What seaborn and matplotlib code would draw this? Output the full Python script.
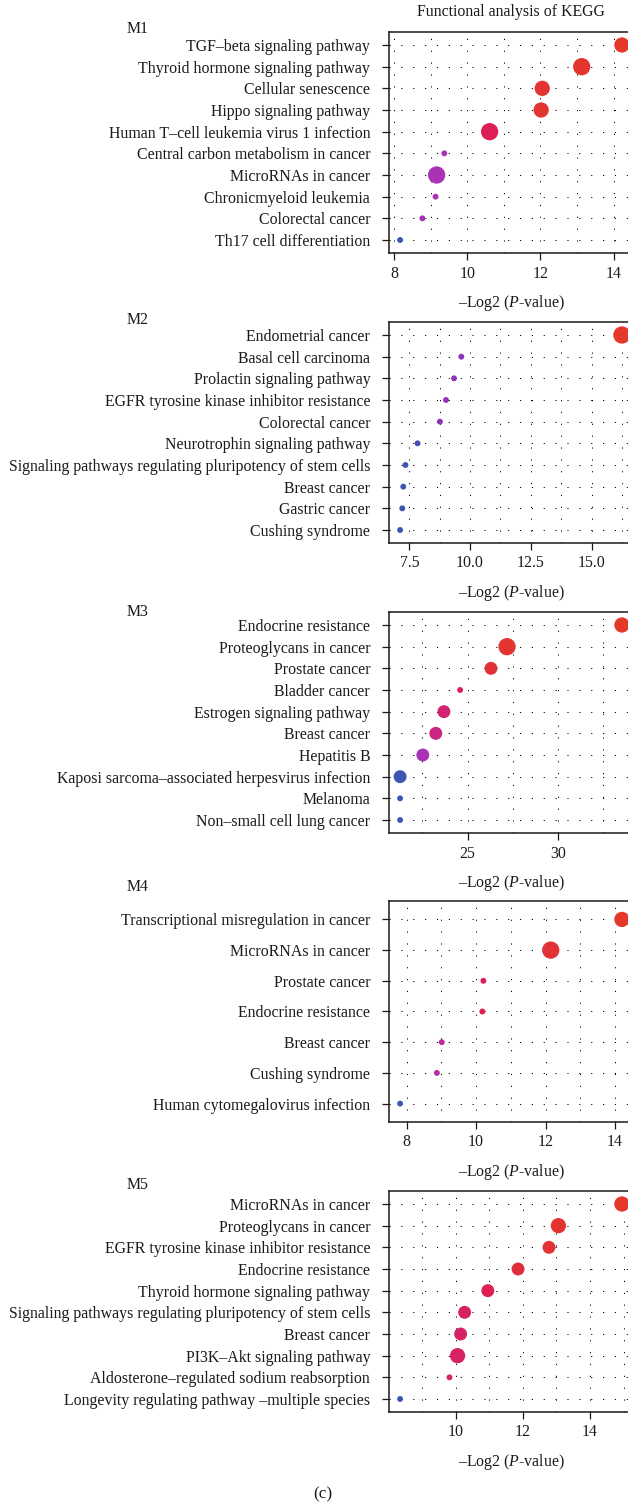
import matplotlib
matplotlib.use("Agg")
import matplotlib.pyplot as plt
import pandas as pd
import seaborn as sns
from matplotlib.colors import LinearSegmentedColormap
from matplotlib.ticker import MultipleLocator

# ---- KEGG enrichment per module (terms listed top to bottom) ----
m1_terms = ["TGF\u2013beta signaling pathway", "Thyroid hormone signaling pathway",
            "Cellular senescence", "Hippo signaling pathway",
            "Human T\u2013cell leukemia virus 1 infection", "Central carbon metabolism in cancer",
            "MicroRNAs in cancer", "Chronicmyeloid leukemia", "Colorectal cancer",
            "Th17 cell differentiation"]
m1_score = [14.23, 13.13, 12.05, 12.02, 10.61, 9.37, 9.16, 9.13, 8.77, 8.16]
m1_count = [5, 6, 5, 5, 6, 2, 6, 2, 2, 2]
m1_level = [1.0, 0.98, 0.97, 0.97, 0.85, 0.5, 0.5, 0.5, 0.48, 0.0]

m2_terms = ["Endometrial cancer", "Basal cell carcinoma", "Prolactin signaling pathway",
            "EGFR tyrosine kinase inhibitor resistance", "Colorectal cancer",
            "Neurotrophin signaling pathway",
            "Signaling pathways regulating pluripotency of stem cells",
            "Breast cancer", "Gastric cancer", "Cushing syndrome"]
m2_score = [16.25, 9.64, 9.34, 9.01, 8.76, 7.84, 7.34, 7.25, 7.21, 7.12]
m2_count = [6, 2, 2, 2, 2, 2, 2, 2, 2, 2]
m2_level = [1.0, 0.38, 0.38, 0.37, 0.36, 0.03, 0.0, 0.0, 0.0, 0.0]

m3_terms = ["Endocrine resistance", "Proteoglycans in cancer", "Prostate cancer",
            "Bladder cancer", "Estrogen signaling pathway", "Breast cancer", "Hepatitis B",
            "Kaposi sarcoma\u2013associated herpesvirus infection", "Melanoma",
            "Non\u2013small cell lung cancer"]
m3_score = [33.56, 27.19, 26.30, 24.59, 23.69, 23.24, 22.52, 21.26, 21.26, 21.26]
m3_count = [5, 6, 4, 2, 4, 4, 4, 4, 2, 2]
m3_level = [1.0, 0.97, 0.95, 0.85, 0.75, 0.7, 0.5, 0.0, 0.0, 0.0]

m4_terms = ["Transcriptional misregulation in cancer", "MicroRNAs in cancer",
            "Prostate cancer", "Endocrine resistance", "Breast cancer",
            "Cushing syndrome", "Human cytomegalovirus infection"]
m4_score = [14.20, 12.15, 10.21, 10.18, 9.01, 8.87, 7.81]
m4_count = [5, 6, 2, 2, 2, 2, 2]
m4_level = [1.0, 0.96, 0.85, 0.85, 0.6, 0.58, 0.0]

m5_terms = ["MicroRNAs in cancer", "Proteoglycans in cancer",
            "EGFR tyrosine kinase inhibitor resistance", "Endocrine resistance",
            "Thyroid hormone signaling pathway",
            "Signaling pathways regulating pluripotency of stem cells", "Breast cancer",
            "PI3K\u2013Akt signaling pathway", "Aldosterone\u2013regulated sodium reabsorption",
            "Longevity regulating pathway \u2013multiple species"]
m5_score = [14.95, 13.06, 12.78, 11.86, 10.96, 10.27, 10.15, 10.06, 9.82, 8.35]
m5_count = [5, 5, 4, 4, 4, 4, 4, 5, 2, 2]
m5_level = [1.0, 0.97, 0.96, 0.93, 0.85, 0.8, 0.8, 0.8, 0.8, 0.0]

modules = ["M1", "M2", "M3", "M4", "M5"]
major_steps = [2, 2.5, 5, 2, 2]

panels = [
    (m1_terms, m1_score, m1_count, m1_level),
    (m2_terms, m2_score, m2_count, m2_level),
    (m3_terms, m3_score, m3_count, m3_level),
    (m4_terms, m4_score, m4_count, m4_level),
    (m5_terms, m5_score, m5_count, m5_level),
]

sns.set_theme(style="white")
plt.rcParams.update({
    "font.family": ["Liberation Serif", "DejaVu Serif"],
    "mathtext.fontset": "custom",
    "mathtext.rm": "Liberation Serif",
    "mathtext.it": "Liberation Serif:italic",
    "text.color": "#1a1a1a",
    "axes.labelcolor": "#1a1a1a",
    "xtick.color": "#1a1a1a",
    "ytick.color": "#1a1a1a",
})

sig_cmap = LinearSegmentedColormap.from_list(
    "sig", [(0.0, "#3d55b3"), (0.35, "#8a33bf"), (0.5, "#a932b5"),
            (0.7, "#cc2484"), (0.85, "#dc1f55"), (1.0, "#e4392a")])

W, H = 628, 1508
fig = plt.figure(figsize=(W / 100, H / 100), dpi=100)
ax_left, ax_right = 389, 633
ax_tops = [32, 322, 612, 901, 1191]
ax_h = 221
mod_label_y = [29, 320, 612, 887, 1185]
fs = 11.4

grid_style = dict(color="black", linewidth=0.7, linestyle=(0, (1.2, 11)))

for i, (terms, score, count, level) in enumerate(panels):
    top = ax_tops[i]
    ax = fig.add_axes([ax_left / W, 1 - (top + ax_h) / H,
                       (ax_right - ax_left) / W, ax_h / H])
    df = pd.DataFrame({"Term": terms[::-1], "Score": score[::-1],
                       "Count": count[::-1], "Level": level[::-1]})
    n = len(df)

    ax.grid(True, which="major", axis="both", **grid_style)
    ax.grid(True, which="minor", axis="x", **grid_style)
    ax.set_axisbelow(True)

    sns.scatterplot(data=df, x="Score", y="Term", hue="Level", size="Count",
                    palette=sig_cmap, hue_norm=(0, 1), sizes=(18, 155),
                    size_norm=(2, 6), linewidth=0, legend=False, ax=ax, zorder=3)

    lo, hi = min(score), max(score)
    pad = (hi - lo) * 0.05
    ax.set_xlim(lo - pad, hi + pad)
    ax.set_ylim(-0.6, n - 0.4)
    ax.xaxis.set_major_locator(MultipleLocator(major_steps[i]))
    ax.xaxis.set_minor_locator(MultipleLocator(major_steps[i] / 2))

    ax.tick_params(axis="both", which="major", length=5, width=0.9,
                   labelsize=fs, direction="out", bottom=True, left=True)
    ax.tick_params(axis="y", which="major", pad=8.5)
    ax.tick_params(axis="x", which="major", pad=4)
    ax.tick_params(axis="x", which="minor", length=0)

    ax.set_ylabel("")
    ax.set_xlabel("\u2013Log2 ($\\mathit{P}$-value)", fontsize=fs, labelpad=8)
    for s in ax.spines.values():
        s.set_visible(True)
        s.set_color("#1a1a1a")
        s.set_linewidth(1.1)

    fig.text(138 / W, 1 - mod_label_y[i] / H, modules[i], fontsize=fs,
             ha="center", va="center")

fig.text(511 / W, 1 - 12 / H, "Functional analysis of KEGG", fontsize=fs,
         ha="center", va="center")
fig.text(323 / W, 1 - 1494 / H, "(c)", fontsize=fs + 1, ha="center", va="center")

fig.savefig("out.png", dpi=100)
